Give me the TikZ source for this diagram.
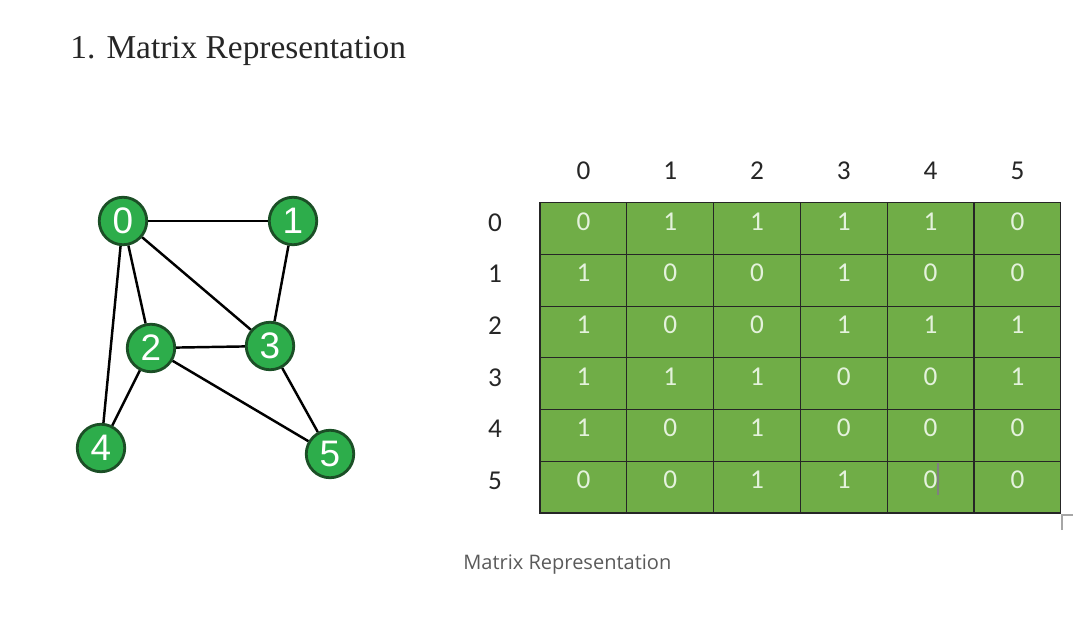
\documentclass[tikz,border=0pt]{standalone}
\usepackage{fontspec}
\setmainfont{Liberation Serif}
\newfontfamily\cellfont{Carlito}
\newfontfamily\vertfont{Liberation Sans}
\newfontfamily\capfont{Open Sans}
\definecolor{vertgreen}{HTML}{2DAD4B}
\definecolor{vertedge}{HTML}{1B4F26}
\definecolor{cellgreen}{HTML}{70AD47}
\definecolor{celltext}{HTML}{E4F2DC}
\definecolor{captiongray}{HTML}{5A5A5A}
\tikzset{
  vert/.style={circle, draw=vertedge, line width=1.6pt, fill=vertgreen,
    minimum size=0.95cm, inner sep=0pt, text=white,
    font=\vertfont\fontsize{21}{21}\selectfont},
  link/.style={line width=1.4pt, black},
  cell/.style={rectangle, draw=black!85, line width=0.6pt, fill=cellgreen,
    minimum width=1.736cm, minimum height=1.034cm, inner sep=0pt,
    text height=0.3cm, text depth=0.24cm,
    text=celltext, font=\cellfont\fontsize{15.5}{15.5}\selectfont},
  head/.style={inner sep=0pt, text=black!85, font=\cellfont\fontsize{15.5}{15.5}\selectfont},
}
\begin{document}
\begin{tikzpicture}[x=0.02cm, y=-0.02cm]
  \useasboundingbox (0,0) rectangle (1080,622);
  % title
  \node[anchor=base west, inner sep=0pt, text=black!85,
    font=\fontsize{19}{19}\selectfont] (title) at (70,58) {1. Matrix Representation};

  % graph
  \node[vert] (v0) at (123,221) {0};
  \node[vert] (v1) at (293,221) {1};
  \node[vert] (v2) at (151,348) {2};
  \node[vert] (v3) at (270,346) {3};
  \node[vert] (v4) at (101,448) {4};
  \node[vert] (v5) at (330,454) {5};
  \draw[link] (v0) -- (v1);
  \draw[link] (v0) -- (v2);
  \draw[link] (v0) -- (v3);
  \draw[link] (v0) -- (v4);
  \draw[link] (v1) -- (v3);
  \draw[link] (v2) -- (v3);
  \draw[link] (v2) -- (v4);
  \draw[link] (v2) -- (v5);
  \draw[link] (v3) -- (v5);

  % matrix
  \foreach \row/\vals in {0/{0,1,1,1,1,0}, 1/{1,0,0,1,0,0}, 2/{1,0,0,1,1,1},
                          3/{1,1,1,0,0,1}, 4/{1,0,1,0,0,0}, 5/{0,0,1,1,0,0}} {
    \node[head] (r\row) at (495,{222.5+51.67*\row}) {\row};
    \foreach \v [count=\col from 0] in \vals {
      \node[cell] (c\row\col) at ({583.4+86.8*\col},{228.8+51.67*\row}) {\v};
    }
  }
  \foreach \col in {0,...,5} {
    \node[head] (h\col) at ({583.4+86.8*\col},171) {\col};
  }

  % cursor marks
  \draw[gray, line width=0.6pt] (938,463) -- (938,495);
  \coordinate (m1) at (1062,530);
  \coordinate (m2) at (1062,515);
  \coordinate (m3) at (1073,515);
  \draw[gray!70, line width=0.6pt] (m1) -- (m2) -- (m3);

  % caption
  \node[anchor=base west, inner sep=0pt, text=captiongray,
    font=\capfont\fontsize{11.4}{11.4}\selectfont] (cap) at (463,569) {Matrix Representation};
\end{tikzpicture}
\end{document}
